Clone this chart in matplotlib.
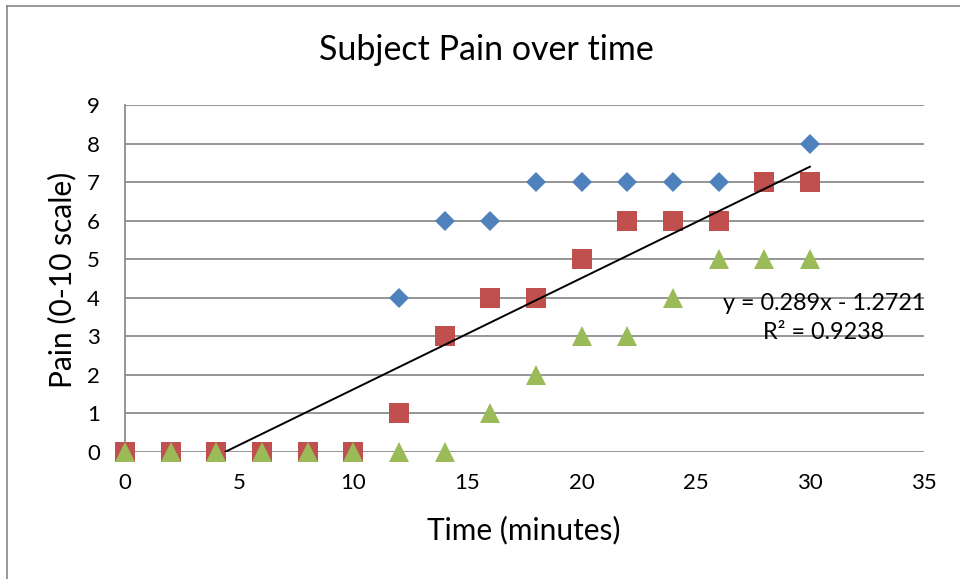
import matplotlib
matplotlib.use("Agg")
import matplotlib.pyplot as plt
from matplotlib.lines import Line2D

# Data: pain score (0-10) recorded every 2 minutes for three subjects
time_min = [0, 2, 4, 6, 8, 10, 12, 14, 16, 18, 20, 22, 24, 26, 28, 30]
subject_a = [0, 0, 0, 0, 0, 0, 4, 6, 6, 7, 7, 7, 7, 7, 7, 8]
subject_b = [0, 0, 0, 0, 0, 0, 1, 3, 4, 4, 5, 6, 6, 6, 7, 7]
subject_c = [0, 0, 0, 0, 0, 0, 0, 0, 1, 2, 3, 3, 4, 5, 5, 5]

# Linear trendline fitted to subject B
trend_slope = 0.289
trend_intercept = -1.2721
trend_r2 = 0.9238

x_ticks = [0, 5, 10, 15, 20, 25, 30, 35]
y_ticks = [0, 1, 2, 3, 4, 5, 6, 7, 8, 9]

FONT = "Lato"
GRID = "#8c8c8c"

fig = plt.figure(figsize=(9.6, 5.79), dpi=100)
W, H = 960, 579

# outer chart frame (left and top edges visible)
fig.add_artist(Line2D([7 / W, 7 / W], [0, 1 - 6 / H], transform=fig.transFigure,
                      color="#868686", lw=1.2))
fig.add_artist(Line2D([7 / W, 1], [1 - 6 / H, 1 - 6 / H], transform=fig.transFigure,
                      color="#868686", lw=1.2))

left, right, top, bottom = 125, 924, 105, 451.7
ax = fig.add_axes([left / W, (H - bottom) / H, (right - left) / W, (bottom - top) / H])

ax.set_xlim(0, 35)
ax.set_ylim(0, 9)
ax.set_xticks(x_ticks)
ax.set_yticks(y_ticks)
ax.tick_params(length=0, labelsize=16)
ax.tick_params(axis="x", pad=15)
ax.tick_params(axis="y", pad=18)
for lab in ax.get_xticklabels() + ax.get_yticklabels():
    lab.set_fontfamily(FONT)

for s in ["top", "right", "bottom"]:
    ax.spines[s].set_visible(False)
ax.spines["left"].set_color(GRID)
ax.spines["left"].set_linewidth(1.3)

for yv in y_ticks:
    ax.axhline(yv, color=GRID, lw=1.3, zorder=1)

ms_kw = dict(linestyle="none", markeredgewidth=0, clip_on=False, zorder=3)
ax.plot(time_min, subject_a, marker="D", markersize=10, color="#4F81BD", **ms_kw)
ax.plot(time_min, subject_b, marker="s", markersize=14.4, color="#C0504D", **ms_kw)
ax.plot(time_min, subject_c, marker="^", markersize=14.4, color="#9BBB59", **ms_kw)

# trendline, clipped at the x axis
x0 = -trend_intercept / trend_slope
x1 = max(time_min)
ax.plot([x0, x1], [trend_slope * x0 + trend_intercept, trend_slope * x1 + trend_intercept],
        color="black", lw=1.4, zorder=4)

sign = "-" if trend_intercept < 0 else "+"
eq_text = f"y = {trend_slope:.3f}x {sign} {abs(trend_intercept):.4f}\nR² = {trend_r2:.4f}"
fig.text(824 / W, 1 - 318 / H, eq_text, ha="center", va="center", fontsize=16.8,
         family=FONT, linespacing=1.5)

fig.text(486 / W, 1 - 50 / H, "Subject Pain over time", ha="center", va="center",
         fontsize=24.5, family=FONT)
fig.text(524 / W, 1 - 530 / H, "Time (minutes)", ha="center", va="center",
         fontsize=21.5, family=FONT)
fig.text(62 / W, 1 - 280 / H, "Pain (0-10 scale)", ha="center", va="center",
         fontsize=21.5, family=FONT, rotation=90)

fig.savefig("out.png", dpi=100)
